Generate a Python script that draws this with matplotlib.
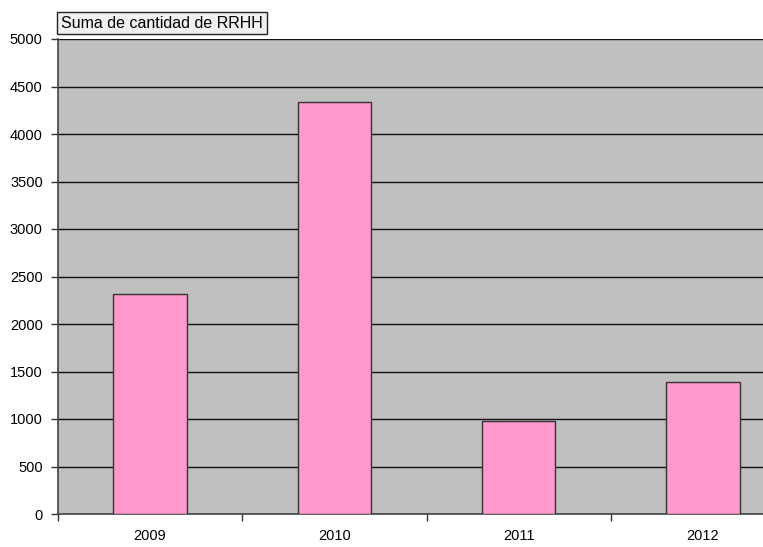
import matplotlib
matplotlib.use("Agg")
import matplotlib.pyplot as plt
import numpy as np
from matplotlib.ticker import FixedLocator, NullFormatter

# Datos
years = ["2009", "2010", "2011", "2012"]
rrhh = [2320, 4340, 980, 1390]
y_ticks = [0, 500, 1000, 1500, 2000, 2500, 3000, 3500, 4000, 4500, 5000]

plt.rcParams["font.family"] = ["Liberation Sans", "DejaVu Sans"]

W, H = 763, 547
fig = plt.figure(figsize=(W / 100, H / 100), dpi=100)
fig.patch.set_facecolor("white")

# el área de trazado sobresale por la derecha (recortada como en el original)
left, right, top, bottom = 58, 795, 39, 514
ax = fig.add_axes([left / W, 1 - bottom / H, (right - left) / W, (bottom - top) / H])
ax.set_facecolor("#c0c0c0")

x = np.arange(len(years))
ax.bar(x, rrhh, width=0.4, color="#ff99cc", edgecolor="#333333", linewidth=1.0, zorder=3)

ax.set_xlim(-0.5, len(years) - 0.5)
ax.set_ylim(0, 5000)
ax.set_yticks(y_ticks)
ax.set_yticklabels([str(v) for v in y_ticks], fontsize=10.5)
ax.yaxis.grid(True, color="#111111", linewidth=1.0, zorder=1)
ax.set_axisbelow(True)

# etiquetas centradas, marcas entre categorías
ax.set_xticks(x)
ax.set_xticklabels(years, fontsize=10.5)
ax.tick_params(axis="x", which="major", length=0, pad=11)
ax.xaxis.set_minor_locator(FixedLocator(np.arange(-0.5, len(years), 1.0)))
ax.xaxis.set_minor_formatter(NullFormatter())
ax.tick_params(axis="x", which="minor", length=5, width=1, color="#333333", direction="out")
ax.tick_params(axis="y", length=5, width=1, color="#333333", direction="out", pad=6)

for s in ["top", "right"]:
    ax.spines[s].set_visible(False)
for s in ["left", "bottom"]:
    ax.spines[s].set_color("#444444")
    ax.spines[s].set_linewidth(1.2)

fig.text(61 / W, 1 - 23 / H, "Suma de cantidad de RRHH", fontsize=11.5, va="center", ha="left",
         bbox=dict(boxstyle="square,pad=0.25", facecolor="#f0f0f0", edgecolor="#222222", linewidth=1))

fig.savefig("out.png", dpi=100)
